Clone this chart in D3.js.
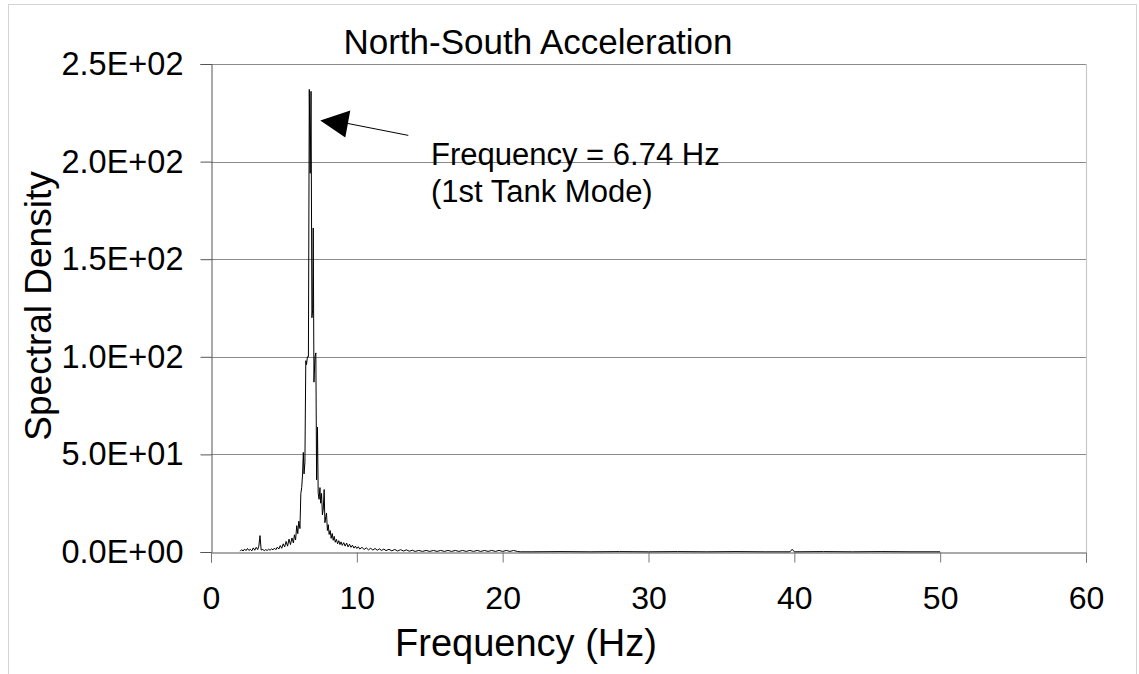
<!DOCTYPE html>
<html>
<head>
<meta charset="utf-8">
<script src="https://cdn.jsdelivr.net/npm/d3@7"></script>
<style>
  html, body { margin: 0; padding: 0; background: #fff; }
  svg { display: block; font-family: "Liberation Sans", Arial, sans-serif; }
</style>
</head>
<body>
<svg id="chart" width="1139" height="674"></svg>
<script>
// Spectral density of the north-south acceleration record, by frequency band.
const lowBandHz = [2.0, 2.1, 2.2, 2.3, 2.4, 2.5, 2.6, 2.7, 2.8, 2.9, 3.0, 3.1, 3.2, 3.28, 3.36, 3.44,
  3.55, 3.65, 3.75, 3.85, 3.95, 4.05, 4.15, 4.25, 4.35, 4.45, 4.55, 4.65, 4.75, 4.85, 4.95,
  5.05, 5.15, 5.25, 5.35, 5.45, 5.55, 5.65, 5.72, 5.8, 5.88, 5.95, 6.02, 6.1];
const lowBandDensity = [0.4, 1.2, 0.5, 1.5, 0.7, 1.8, 0.8, 1.4, 0.6, 2.1, 0.9, 2.4, 1.2, 3.0, 8.4, 1.0,
  1.3, 0.7, 1.2, 0.8, 1.4, 0.9, 1.6, 1.1, 2.0, 1.2, 2.5, 1.5, 3.3, 1.9, 4.2,
  2.6, 5.4, 3.0, 6.6, 3.8, 7.2, 4.6, 8.8, 6.2, 13.5, 9.4, 15.8, 12.0];

const peakBandHz = [6.16, 6.22, 6.28, 6.33, 6.38, 6.44, 6.5, 6.55, 6.61, 6.68, 6.74, 6.8, 6.86,
  6.92, 6.97, 7.01, 7.06, 7.13, 7.19, 7.24, 7.3, 7.35, 7.41, 7.47, 7.52, 7.58, 7.64, 7.7,
  7.76, 7.81, 7.87, 7.92, 7.98, 8.04, 8.1, 8.17, 8.24, 8.31, 8.38, 8.45, 8.52, 8.6, 8.68,
  8.76, 8.84, 8.92, 9.0, 9.1, 9.2, 9.3, 9.4, 9.5, 9.6, 9.7, 9.8, 9.9, 10.0];
const peakBandDensity = [30, 33, 40, 51, 40, 46, 98, 96, 100, 100, 237, 194, 236,
  120, 124, 166, 87, 100, 102, 37, 64, 30, 27, 33, 25, 30, 19, 22,
  32, 15, 18, 20, 11, 14, 9, 11, 7, 9.5, 6, 8, 5, 6.5, 4.2,
  5.8, 3.8, 5.2, 3.4, 4.8, 3.0, 4.6, 2.6, 4.0, 2.4, 3.5, 2.0, 3.0, 1.8];

const tailBandHz = [10.1, 10.2, 10.35, 10.5, 10.65, 10.8, 10.95, 11.1, 11.25, 11.4, 11.55, 11.7,
  11.85, 12.0, 12.2, 12.4, 12.6, 12.8, 13.0, 13.2, 13.4, 13.6, 13.8,
  14.0, 14.25, 14.5, 14.75, 15.0, 15.25, 15.5, 15.75, 16.0, 16.25, 16.5, 16.75, 17.0,
  17.25, 17.5, 17.75, 18.0, 18.25, 18.5, 18.75, 19.0, 19.25, 19.5, 19.75, 20.0, 20.25,
  20.5, 20.75, 21.0, 21.2];
const tailBandDensity = [2.7, 1.5, 2.4, 1.3, 2.1, 1.1, 1.9, 1.0, 1.8, 0.9, 1.6, 0.8,
  1.5, 0.7, 1.4, 0.6, 1.3, 0.5, 1.2, 0.5, 1.1, 0.4, 0.9,
  0.3, 0.8, 0.3, 0.8, 0.3, 0.8, 0.3, 0.8, 0.3, 0.8, 0.3, 0.8, 0.3,
  0.8, 0.3, 0.8, 0.3, 0.8, 0.3, 0.8, 0.3, 0.8, 0.3, 0.8, 0.3, 0.8,
  0.3, 0.8, 0.3, 0.1];

const highBandHz = [22, 24, 26, 28, 30, 32, 34, 36, 38, 39.7, 39.85, 40.0, 42, 44, 46, 48, 50];
const highBandDensity = [0.1, 0.2, 0.1, 0.2, 0.1, 0.2, 0.1, 0.2, 0.1, 0.1, 1.4, 0.1, 0.2, 0.1, 0.2, 0.1, 0.1];

const xTickValues = [0, 10, 20, 30, 40, 50, 60];
const yTickValues = [0, 50, 100, 150, 200, 250];

const peakFreq = 6.74;
const titleText = "North-South Acceleration";
const xTitle = "Frequency (Hz)";
const yTitle = "Spectral Density";
const noteLines = [`Frequency = ${peakFreq} Hz`, "(1st Tank Mode)"];

const series = [].concat(
  lowBandHz.map((f, i) => [f, lowBandDensity[i]]),
  peakBandHz.map((f, i) => [f, peakBandDensity[i]]),
  tailBandHz.map((f, i) => [f, tailBandDensity[i]]),
  highBandHz.map((f, i) => [f, highBandDensity[i]])
);

const svg = d3.select("#chart");
const plotLeft = 211, plotRight = 1086, plotTop = 64, plotBottom = 552;

const x = d3.scaleLinear().domain([0, 60]).range([plotLeft, plotRight]);
const y = d3.scaleLinear().domain([0, 250]).range([plotBottom, plotTop]);

// Excel-style scientific labels: 2.5E+02
const fmtE = v => {
  const [m, e] = v.toExponential(1).split("e");
  const sign = e[0] === "-" ? "-" : "+";
  return m + "E" + sign + String(Math.abs(+e)).padStart(2, "0");
};

// outer chart frame
svg.append("rect")
  .attr("x", 8.5).attr("y", 4.5).attr("width", 1128).attr("height", 700)
  .attr("fill", "none").attr("stroke", "#d4d4d4").attr("stroke-width", 1);

// horizontal gridlines
svg.append("g")
  .selectAll("line")
  .data(yTickValues.filter(v => v > 0))
  .join("line")
  .attr("x1", plotLeft).attr("x2", plotRight)
  .attr("y1", d => Math.round(y(d)) + 0.5).attr("y2", d => Math.round(y(d)) + 0.5)
  .attr("stroke", "#8a8a8a").attr("stroke-width", 1.2);

// right edge of plot area
svg.append("line")
  .attr("x1", plotRight + 0.5).attr("x2", plotRight + 0.5)
  .attr("y1", plotTop).attr("y2", plotBottom)
  .attr("stroke", "#c8c8c8").attr("stroke-width", 1.2);

// y axis
const yAxis = svg.append("g")
  .attr("transform", `translate(${plotLeft + 0.5},0)`)
  .call(d3.axisLeft(y).tickValues(yTickValues).tickSize(11).tickPadding(17).tickFormat(fmtE));
yAxis.select(".domain").attr("stroke", "#555");
yAxis.selectAll(".tick line").attr("stroke", "#555");
yAxis.selectAll(".tick text")
  .attr("font-size", 32.5).attr("fill", "#000")
  .attr("font-family", "'Liberation Sans', Arial, sans-serif")
  .attr("dy", "0.32em");

// x axis
const xAxis = svg.append("g")
  .attr("transform", `translate(0,${plotBottom + 0.5})`)
  .call(d3.axisBottom(x).tickValues(xTickValues).tickSize(10).tickPadding(24).tickFormat(d3.format("d")));
xAxis.select(".domain").attr("stroke", "#555");
xAxis.selectAll(".tick line").attr("stroke", "#777");
xAxis.selectAll(".tick text")
  .attr("font-size", 32).attr("fill", "#000")
  .attr("font-family", "'Liberation Sans', Arial, sans-serif");

// spectrum trace
svg.append("path")
  .datum(series)
  .attr("fill", "none")
  .attr("stroke", "#000")
  .attr("stroke-width", 1)
  .attr("stroke-linejoin", "miter")
  .attr("d", d3.line().x(d => x(d[0])).y(d => y(d[1])));

// titles
svg.append("text")
  .attr("x", 538).attr("y", 54)
  .attr("text-anchor", "middle")
  .attr("font-size", 35)
  .text(titleText);

svg.append("text")
  .attr("x", 526).attr("y", 656)
  .attr("text-anchor", "middle")
  .attr("font-size", 38)
  .text(xTitle);

svg.append("text")
  .attr("transform", "translate(51,306) rotate(-90)")
  .attr("text-anchor", "middle")
  .attr("font-size", 37)
  .text(yTitle);

// peak annotation
const peakVal = peakBandDensity[peakBandHz.indexOf(peakFreq)];
const tipX = x(peakFreq) + 11, tipY = y(peakVal) + 31;
svg.append("line")
  .attr("x1", tipX + 27).attr("y1", tipY + 3)
  .attr("x2", tipX + 88).attr("y2", tipY + 15)
  .attr("stroke", "#000").attr("stroke-width", 1);
svg.append("path")
  .attr("d", `M${tipX},${tipY} L${tipX + 30},${tipY - 10} L${tipX + 25},${tipY + 17} Z`)
  .attr("fill", "#000");

svg.append("g")
  .selectAll("text")
  .data(noteLines)
  .join("text")
  .attr("x", 431)
  .attr("y", (d, i) => 165 + i * 37)
  .attr("font-size", 31)
  .text(d => d);
</script>
</body>
</html>
